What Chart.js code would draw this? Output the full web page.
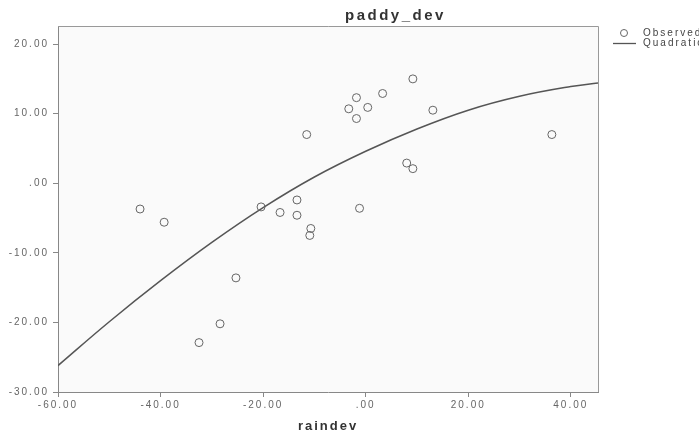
<!DOCTYPE html>
<html>
<head>
<meta charset="utf-8">
<script src="https://cdn.jsdelivr.net/npm/chart.js@4"></script>
<style>
html,body{margin:0;padding:0;background:#fff;}
#wrap{width:699px;height:435px;}
</style>
</head>
<body>
<div id="wrap"><canvas id="c" width="699" height="435"></canvas></div>
<script>
// ---- data ----
const chartTitle = "paddy_dev";
const xTitle = "raindev";
const legendLabels = ["Observed", "Quadratic"];

const rainDev  = [-44.0, -39.3, -32.5, -28.4, -25.3, -20.4, -16.7, -13.4, -13.4, -10.7, -10.9, -11.5, -1.8, 3.3, -3.3, 0.4, -1.8, 9.2, 13.1, 36.3, 8.0, 9.2, -1.2];
const paddyDev = [-3.7, -5.6, -22.9, -20.2, -13.6, -3.4, -4.2, -2.4, -4.6, -6.5, -7.5, 7.0, 12.3, 12.9, 10.7, 10.9, 9.3, 15.0, 10.5, 7.0, 2.9, 2.1, -3.6];

const fitX = [-60, -50, -40, -30, -20, -10, 0, 10, 20, 30, 40, 45.3];
const fitY = [-26.2, -19.9, -14.0, -8.5, -3.5, 0.9, 4.6, 7.8, 10.5, 12.5, 13.9, 14.4];

const xTicks = [-60, -40, -20, 0, 20, 40];
const yTicks = [-30, -20, -10, 0, 10, 20];

// ---- chart ----
const FONT = "'Liberation Sans', Arial, sans-serif";
const fmt = v => (v === 0 ? ".00" : v.toFixed(2));

const decor = {
  id: "decor",
  beforeDraw(chart) {
    const {ctx, chartArea: a} = chart;
    ctx.letterSpacing = "2px";
    ctx.save();
    ctx.fillStyle = "#fafafa";
    ctx.fillRect(a.left, a.top, a.right - a.left, a.bottom - a.top);
    ctx.restore();
  },
  afterDraw(chart) {
    const {ctx, chartArea: a} = chart;
    ctx.save();
    // top and right frame lines
    ctx.strokeStyle = "#999";
    ctx.lineWidth = 1;
    ctx.beginPath();
    ctx.moveTo(a.left, Math.round(a.top) + 0.5);
    ctx.lineTo(Math.round(a.right) + 0.5, Math.round(a.top) + 0.5);
    ctx.lineTo(Math.round(a.right) + 0.5, a.bottom);
    ctx.stroke();
    // title
    ctx.letterSpacing = "2.5px";
    ctx.fillStyle = "#333";
    ctx.font = "bold 15px " + FONT;
    ctx.textAlign = "left";
    ctx.textBaseline = "middle";
    ctx.fillText(chartTitle, 345, 16);
    // legend
    ctx.letterSpacing = "2px";
    ctx.font = "10px " + FONT;
    ctx.fillStyle = "#444";
    ctx.fillText(legendLabels[0], 643, 33);
    ctx.fillText(legendLabels[1], 643, 43);
    ctx.strokeStyle = "#666";
    ctx.lineWidth = 1;
    ctx.beginPath();
    ctx.arc(624, 33, 3.5, 0, Math.PI * 2);
    ctx.stroke();
    ctx.strokeStyle = "#555";
    ctx.lineWidth = 1.3;
    ctx.beginPath();
    ctx.moveTo(613, 43.5);
    ctx.lineTo(636, 43.5);
    ctx.stroke();
    ctx.restore();
  }
};

new Chart(document.getElementById("c"), {
  type: "scatter",
  data: {
    datasets: [
      {
        label: legendLabels[0],
        data: rainDev.map((x, i) => ({x, y: paddyDev[i]})),
        pointStyle: "circle",
        pointRadius: 4,
        pointBorderWidth: 1,
        pointBorderColor: "#666",
        pointBackgroundColor: "rgba(0,0,0,0)",
        showLine: false
      },
      {
        label: legendLabels[1],
        data: fitX.map((x, i) => ({x, y: fitY[i]})),
        showLine: true,
        borderColor: "#555",
        borderWidth: 1.5,
        pointRadius: 0,
        tension: 0.4,
        fill: false
      }
    ]
  },
  options: {
    responsive: false,
    animation: false,
    devicePixelRatio: 1,
    layout: {padding: {left: 0, right: 101, top: 26, bottom: 0}},
    plugins: {legend: {display: false}, title: {display: false}, tooltip: {enabled: false}},
    scales: {
      x: {
        type: "linear",
        min: -60,
        max: 45.3,
        afterFit: s => { s.height = 43; },
        afterBuildTicks: s => { s.ticks = xTicks.map(v => ({value: v})); },
        ticks: {
          callback: fmt,
          color: "#666",
          font: {family: FONT, size: 10},
          padding: 2,
          maxRotation: 0,
          autoSkip: false
        },
        grid: {drawOnChartArea: false, drawTicks: true, tickLength: 5, color: "#888"},
        border: {display: true, color: "#888", width: 1},
        title: {
          display: true,
          text: xTitle,
          color: "#333",
          font: {family: FONT, size: 13, weight: "bold"},
          padding: {top: 0, bottom: 1}
        }
      },
      y: {
        type: "linear",
        min: -30,
        max: 22.6,
        afterFit: s => { s.width = 58; },
        afterBuildTicks: s => { s.ticks = yTicks.map(v => ({value: v})); },
        ticks: {
          callback: fmt,
          color: "#666",
          font: {family: FONT, size: 10},
          padding: 4,
          autoSkip: false
        },
        grid: {drawOnChartArea: false, drawTicks: true, tickLength: 5, color: "#888"},
        border: {display: true, color: "#888", width: 1}
      }
    }
  },
  plugins: [decor]
});
</script>
</body>
</html>
